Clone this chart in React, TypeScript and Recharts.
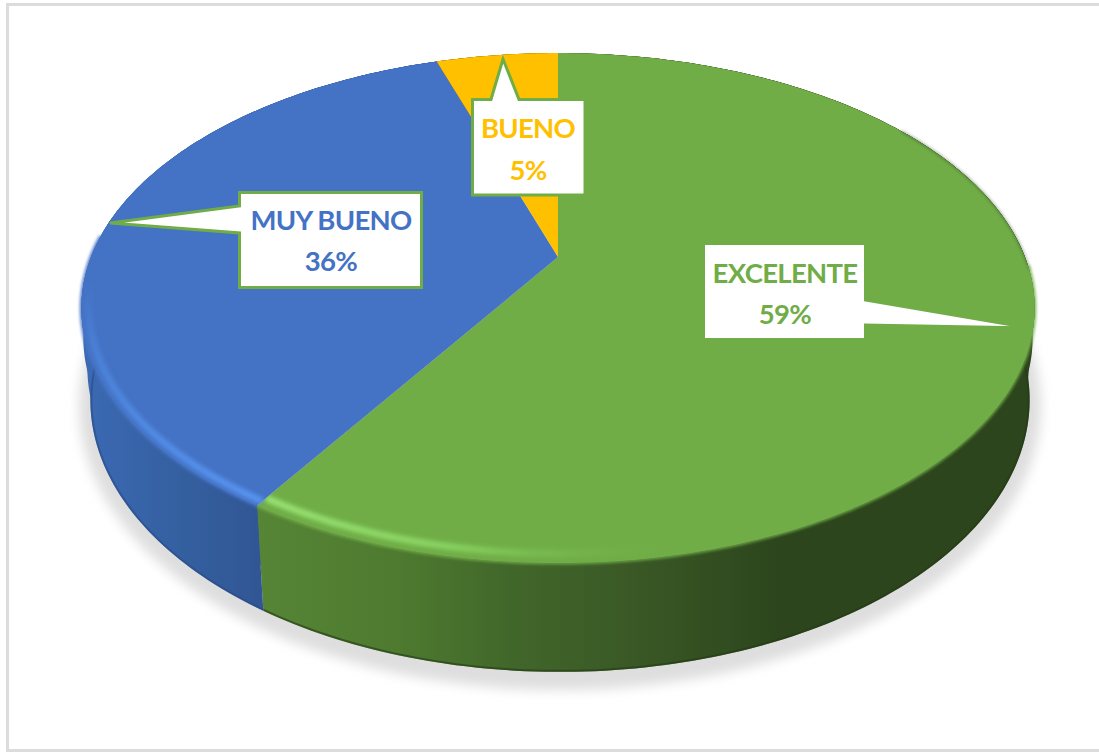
import { Pie, PieChart } from "recharts";

const categories = ["EXCELENTE", "MUY BUENO", "BUENO"];
const percentages = [59, 36, 5];
const faceColors = ["#70ad47", "#4472c4", "#ffc000"];
const wallFills = ["url(#wallGreen)", "url(#wallBlue)", "#997300"];
const wallEdges = ["#243a16", "#294b85", "#7f6000"];

// Callout boxes: [left, top, right, bottom], pointer base and tip
const callouts = [
  { box: [703.5, 243.5, 865.5, 339.5], side: "right", base: [300, 325], tip: [1030, 328], lines: [283, 324], mid: 785 },
  { box: [239.5, 192.5, 421.5, 287.5], side: "left", base: [206, 233], tip: [110, 223], lines: [230, 271], mid: 331 },
  { box: [472.5, 99.5, 585, 195], side: "top", base: [491, 519], tip: [503, 59], lines: [138, 180], mid: 528 },
];

const chartData = categories.map((name, i) => ({
  name,
  value: percentages[i],
  fill: faceColors[i],
}));

const WIDTH = 1099;
const HEIGHT = 752;
const CX = 558;
const CY = 257;
const RADIUS = 467;

// Tilted disc: squash + perspective, so the hub sits above the ellipse centre
const SQUASH = 0.524;
const PERSPECTIVE = 0.2;
const BASE_SHIFT_X = 2;
const BASE_DROP = 92;
const BASE_RX_DELTA = -7;
const BASE_RY_DELTA = 17;

// Rounded shoulder under the top face: [rx reduction, drop] for each ring
const SHOULDER_RINGS = [
  [2, 30],
  [6, 60],
];

type Pt = [number, number];

function project(angle: number, cx: number, cy: number, r: number, scale = 1): Pt {
  const a = ((90 - angle) * Math.PI) / 180;
  const u = Math.sin(a) * scale;
  const v = Math.cos(a) * scale;
  const w = 1 + PERSPECTIVE * v;
  return [cx + (r * u) / w, cy - (r * SQUASH * v) / w];
}

function ellipseOf(cy: number, r: number) {
  const k = 1 - PERSPECTIVE * PERSPECTIVE;
  return {
    cy: cy + (r * SQUASH * PERSPECTIVE) / k,
    rx: r / Math.sqrt(k),
    ry: (r * SQUASH) / k,
  };
}

function eccentric(angle: number, cx: number, cy: number, r: number) {
  const e = ellipseOf(cy, r);
  const [x, y] = project(angle, cx, cy, r);
  return { e, t: Math.atan2((x - cx) / e.rx, (y - e.cy) / e.ry) };
}

// Same eccentric position on the lower rim of the cylinder
function projectBase(angle: number, cx: number, cy: number, r: number, inset = 0): Pt {
  const { e, t } = eccentric(angle, cx, cy, r);
  return [
    cx + BASE_SHIFT_X + (e.rx + BASE_RX_DELTA - inset) * Math.sin(t),
    e.cy + BASE_DROP + (e.ry + BASE_RY_DELTA - inset) * Math.cos(t),
  ];
}

function projectRing(angle: number, cx: number, cy: number, r: number, ring: number[]): Pt {
  const { e, t } = eccentric(angle, cx, cy, r);
  return [cx + (e.rx - ring[0]) * Math.sin(t), e.cy + ring[1] + e.ry * Math.cos(t)];
}

function sweep(start: number, end: number, fn: (angle: number) => Pt): Pt[] {
  const steps = Math.max(2, Math.ceil(Math.abs(end - start)));
  const pts: Pt[] = [];
  for (let i = 0; i <= steps; i++) pts.push(fn(start + ((end - start) * i) / steps));
  return pts;
}

const toPath = (pts: Pt[]) =>
  pts.map((p, i) => `${i ? "L" : "M"}${p[0].toFixed(2)} ${p[1].toFixed(2)}`).join(" ");

function WallSlice(props: any) {
  const { cx, cy, outerRadius: r, startAngle, endAngle, name } = props;
  const i = categories.indexOf(name ?? props.payload?.name);
  const top = sweep(startAngle, endAngle, (a) => project(a, cx, cy, r));
  const base = sweep(startAngle, endAngle, (a) => projectBase(a, cx, cy, r));
  const edge = sweep(startAngle, endAngle, (a) => projectBase(a, cx, cy, r, 1));
  return (
    <g>
      {SHOULDER_RINGS.map((ring) => {
        const lower = sweep(startAngle, endAngle, (a) => projectRing(a, cx, cy, r, ring));
        return (
          <path
            key={ring[1]}
            d={`${toPath(top)} ${toPath(lower.reverse()).replace("M", "L")} Z`}
            fill={wallFills[i]}
          />
        );
      })}
      <path d={`${toPath(top)} ${toPath(base.reverse()).replace("M", "L")} Z`} fill={wallFills[i]} />
      <path d={toPath(edge)} fill="none" stroke={wallEdges[i]} strokeWidth={2} opacity={0.6} />
    </g>
  );
}

function TopSlice(props: any) {
  const { cx, cy, outerRadius: r, startAngle, endAngle, fill, name } = props;
  const i = categories.indexOf(name ?? props.payload?.name);
  const at = (scale: number) => (a: number) => project(a, cx, cy, r, scale);
  const arc = sweep(startAngle, endAngle, at(1));
  return (
    <g>
      <path d={`M${cx} ${cy} ${toPath(arc).replace("M", "L")} Z`} fill={fill} />
      {i === 0 && (
        <>
          <path d={toPath(sweep(35, -3, at(1)))} fill="none" stroke="#2c451c" strokeWidth={1.5} opacity={0.6} filter="url(#softEdge)" />
          <path d={toPath(sweep(-2, endAngle, at(1)))} fill="none" stroke={fill} strokeWidth={3} filter="url(#softEdge)" />
          <path d={toPath(sweep(-40, endAngle, at(0.975)))} fill="none" stroke="url(#rimGreen)" strokeWidth={7} filter="url(#rimBlur)" />
        </>
      )}
      {i === 1 && (
        <>
          <path d={toPath(sweep(startAngle, -185, at(1)))} fill="none" stroke={fill} strokeWidth={3} filter="url(#softEdge)" />
          <path d={toPath(sweep(startAngle, -195, at(0.985)))} fill="none" stroke="url(#rimBlue)" strokeWidth={7} filter="url(#rimBlur)" />
        </>
      )}
    </g>
  );
}

function renderCallout(props: any) {
  const i = categories.indexOf(props.name ?? props.payload?.name);
  const c = callouts[i];
  const [l, t, r, b] = c.box;
  let outline: Pt[];
  if (c.side === "right") {
    outline = [[l, t], [r, t], [r, c.base[0]], c.tip as Pt, [r, c.base[1]], [r, b], [l, b]];
  } else if (c.side === "left") {
    outline = [[l, t], [r, t], [r, b], [l, b], [l, c.base[1]], c.tip as Pt, [l, c.base[0]]];
  } else {
    outline = [[l, t], [c.base[0], t], c.tip as Pt, [c.base[1], t], [r, t], [r, b], [l, b]];
  }
  const textStyle = {
    fontFamily: "Lato, sans-serif",
    fontWeight: 700,
    fontSize: 27.5,
    letterSpacing: -0.7,
    fill: faceColors[i],
    textAnchor: "middle" as const,
  };
  return (
    <g key={categories[i]}>
      <path d={`${toPath(outline)} Z`} fill="#fff" stroke="#70ad47" strokeWidth={3} />
      <text x={c.mid} y={c.lines[0]} style={textStyle}>{categories[i]}</text>
      <text x={c.mid} y={c.lines[1]} style={textStyle}>{`${percentages[i]}%`}</text>
    </g>
  );
}

export default function App() {
  return (
    <div style={{ position: "absolute", left: 0, top: 0, width: WIDTH, height: HEIGHT, background: "#fff", overflow: "hidden" }}>
      <div style={{ position: "absolute", left: 6, top: 3, width: WIDTH - 6, height: HEIGHT - 3, borderLeft: "3px solid #dcdcdc", borderTop: "3px solid #dcdcdc", borderBottom: "3px solid #dcdcdc", boxSizing: "border-box" }} />
      <div style={{ position: "absolute", left: 0, top: 0 }}>
        <PieChart width={WIDTH} height={HEIGHT} margin={{ top: 0, right: 0, bottom: 0, left: 0 }}>
          <defs>
            <linearGradient id="wallGreen" gradientUnits="userSpaceOnUse" x1="260" y1="0" x2="1030" y2="0">
              <stop offset="0" stopColor="#578536" />
              <stop offset="0.18" stopColor="#4d7a2f" />
              <stop offset="0.33" stopColor="#41662a" />
              <stop offset="0.5" stopColor="#395725" />
              <stop offset="0.68" stopColor="#2c451c" />
              <stop offset="1" stopColor="#2c451c" />
            </linearGradient>
            <linearGradient id="wallBlue" gradientUnits="userSpaceOnUse" x1="85" y1="0" x2="268" y2="0">
              <stop offset="0" stopColor="#3b69b3" />
              <stop offset="0.55" stopColor="#345f9f" />
              <stop offset="1" stopColor="#315593" />
            </linearGradient>
            <linearGradient id="rimGreen" gradientUnits="userSpaceOnUse" x1="260" y1="0" x2="680" y2="0">
              <stop offset="0" stopColor="#98e272" />
              <stop offset="0.45" stopColor="#88d260" />
              <stop offset="1" stopColor="#70ad47" stopOpacity={0} />
            </linearGradient>
            <linearGradient id="rimBlue" gradientUnits="userSpaceOnUse" x1="0" y1="280" x2="0" y2="500">
              <stop offset="0" stopColor="#4a80d6" stopOpacity={0} />
              <stop offset="0.3" stopColor="#4a80d6" />
              <stop offset="1" stopColor="#5794f0" />
            </linearGradient>
            <filter id="rimBlur" filterUnits="userSpaceOnUse" x="0" y="0" width={WIDTH} height={HEIGHT}>
              <feGaussianBlur stdDeviation={2} />
            </filter>
            <filter id="softEdge" filterUnits="userSpaceOnUse" x="0" y="0" width={WIDTH} height={HEIGHT}>
              <feGaussianBlur stdDeviation={1.6} />
            </filter>
            <filter id="dropBlur" filterUnits="userSpaceOnUse" x="0" y="0" width={WIDTH} height={HEIGHT}>
              <feGaussianBlur stdDeviation={6} />
            </filter>
          </defs>
          <ellipse cx={560} cy={406} rx={481} ry={284} fill="#dedede" filter="url(#dropBlur)" />
          <Pie
            data={chartData}
            dataKey="value"
            nameKey="name"
            cx={CX}
            cy={CY}
            outerRadius={RADIUS}
            startAngle={90}
            endAngle={-270}
            stroke="none"
            shape={WallSlice}
            isAnimationActive={false}
          />
          <Pie
            data={chartData}
            dataKey="value"
            nameKey="name"
            cx={CX}
            cy={CY}
            outerRadius={RADIUS}
            startAngle={90}
            endAngle={-270}
            stroke="none"
            shape={TopSlice}
            label={renderCallout}
            labelLine={false}
            isAnimationActive={false}
          />
        </PieChart>
      </div>
    </div>
  );
}
